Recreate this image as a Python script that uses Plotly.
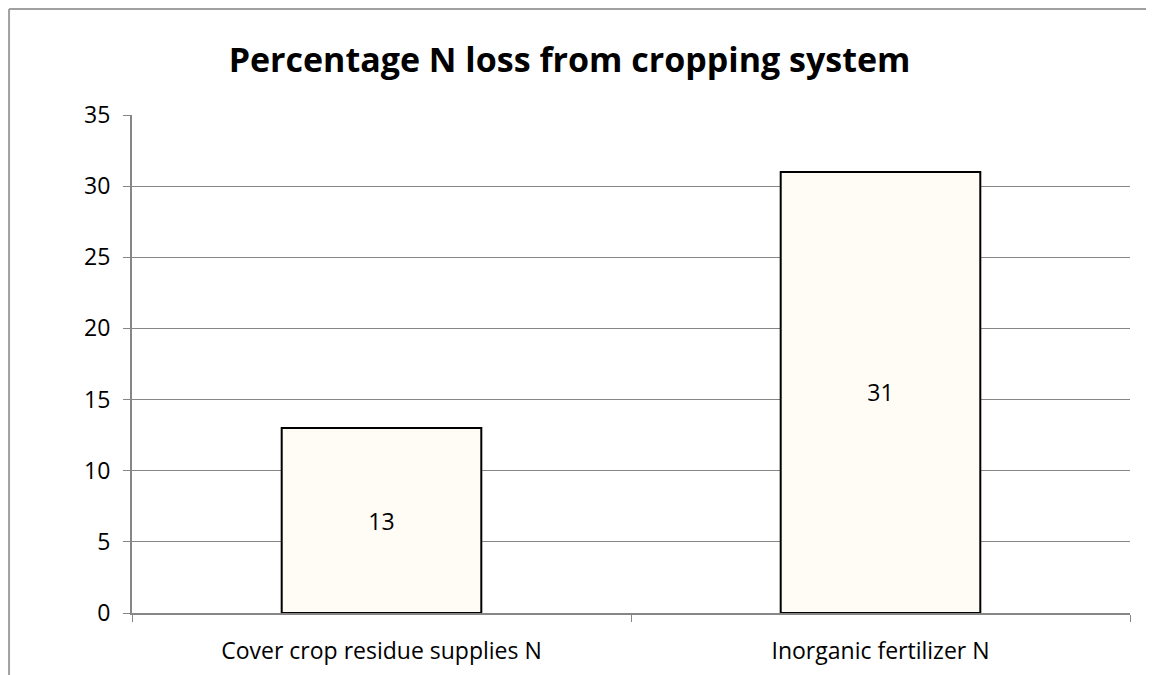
import plotly.graph_objs as go

categories = ['Cover crop residue supplies N', 'Inorganic fertilizer N']
n_loss = [13, 31]
y_ticks = [0, 5, 10, 15, 20, 25, 30, 35]

FONT = 'Open Sans'

fig = go.Figure()
fig.add_trace(go.Bar(x=categories,
                     y=n_loss,
                     text=n_loss,
                     textposition='inside',
                     insidetextanchor='middle',
                     textangle=0,
                     textfont=dict(family=FONT, size=23, color='black'),
                     hoverinfo='none',
                     marker=dict(color='#FFFBF5', line=dict(color='black', width=2))))

fig.update_layout(
    width=1146, height=667,
    margin=dict(l=124, r=24, t=107, b=62),
    paper_bgcolor='white', plot_bgcolor='white',
    bargap=0.6,
    showlegend=False,
    font=dict(family=FONT, size=23, color='black'),
    title=dict(text='<b>Percentage N loss from cropping system</b>',
               font=dict(family=FONT, size=34, color='black'),
               x=0.49, xanchor='center', y=0.922, yanchor='middle'),
    xaxis=dict(type='category', tickson='boundaries', ticks='outside', ticklen=7,
               tickcolor='#868686', showline=True, linecolor='#868686', linewidth=2,
               showgrid=False, ticklabelstandoff=16, automargin=False,
               tickfont=dict(family=FONT, size=23, color='black')),
    yaxis=dict(range=[0, 35], tickvals=y_ticks, ticks='outside', ticklen=7,
               tickcolor='#868686', showline=True, linecolor='#868686', linewidth=2,
               showgrid=True, gridcolor='#868686', gridwidth=1.2, zeroline=False,
               ticklabelstandoff=8, automargin=False,
               tickfont=dict(family=FONT, size=23, color='black')),
)

# chart area border (left and top visible in crop)
fig.add_shape(type='line', xref='paper', yref='paper', x0=-0.1232, x1=-0.1232, y0=-0.13, y1=1.2129,
              line=dict(color='#a0a0a0', width=2))
fig.add_shape(type='line', xref='paper', yref='paper', x0=-0.1232, x1=1.03, y0=1.2129, y1=1.2129,
              line=dict(color='#a0a0a0', width=2))

fig.write_html('out.html')
